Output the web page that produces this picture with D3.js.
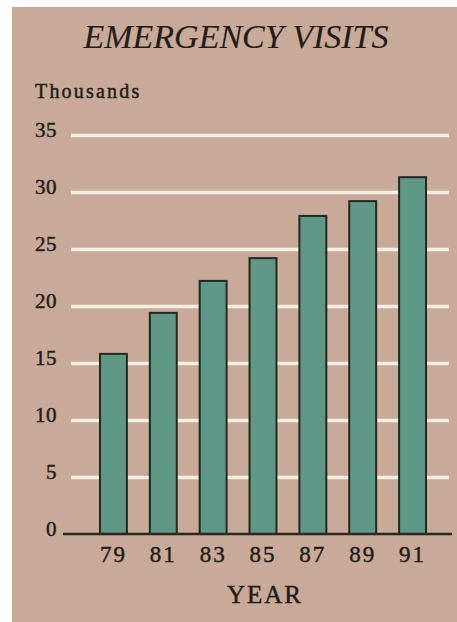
<!DOCTYPE html>
<html>
<head>
<meta charset="utf-8">
<script src="https://cdn.jsdelivr.net/npm/d3@7"></script>
<style>
  html, body { margin: 0; padding: 0; background: #ffffff; }
  svg { display: block; }
  text { font-family: "Liberation Serif", "Times New Roman", serif; fill: #221d18; stroke: #221d18; stroke-width: 0.45; }
</style>
</head>
<body>
<div id="chart"></div>
<script>
(function() {
	"use strict";

	// values (thousands of visits)
	var years = ["79", "81", "83", "85", "87", "89", "91"];
	var visits = [15.8, 19.4, 22.2, 24.2, 27.9, 29.2, 31.3];
	var yTicks = [0, 5, 10, 15, 20, 25, 30, 35];

	var w = 457;
	var h = 622;

	var svg = d3.select("#chart").append("svg")
		.attr("width", w)
		.attr("height", h);

	// tan card
	svg.append("rect")
		.attr("x", 12)
		.attr("y", 7)
		.attr("width", w - 12)
		.attr("height", h - 7)
		.attr("fill", "#c9a997");

	var x = d3.scaleBand()
		.domain(years)
		.range([88.5, 437.5])
		.paddingInner(0.46)
		.paddingOuter(0.23);

	var y = d3.scaleLinear()
		.domain([0, 35])
		.range([534, 135]);

	// white grid lines with the labels on the left
	var yAxis = d3.axisLeft(y)
		.tickValues(yTicks)
		.tickSize(378)
		.tickPadding(14);

	var gy = svg.append("g")
		.attr("transform", "translate(449,0)")
		.call(yAxis);
	gy.select(".domain").remove();
	gy.selectAll(".tick line")
		.attr("stroke", "#f6f0e4")
		.attr("stroke-width", 3.5)
		.filter(function(d) { return d === 0; })
		.remove();
	gy.selectAll(".tick text")
		.attr("dy", 0)
		.attr("y", 1)
		.attr("font-size", 21)
		.attr("letter-spacing", 0.5)
		.attr("font-family", "Liberation Serif, serif")
		.attr("fill", "#221d18");

	svg.selectAll("rect.bar")
		.data(visits)
		.enter()
		.append("rect")
			.attr("class", "bar")
			.attr("x", function(d, i) { return x(years[i]); })
			.attr("y", function(d) { return y(d); })
			.attr("width", x.bandwidth())
			.attr("height", function(d) { return y(0) - y(d); })
			.attr("fill", "#5f9887")
			.attr("stroke", "#1f2a22")
			.attr("stroke-width", 2);

	// baseline
	svg.append("line")
		.attr("x1", 63)
		.attr("x2", 452)
		.attr("y1", y(0))
		.attr("y2", y(0))
		.attr("stroke", "#2a2a22")
		.attr("stroke-width", 2.5);

	var xAxis = d3.axisBottom(x).tickSize(0);
	var gx = svg.append("g")
		.attr("transform", "translate(0," + y(0) + ")")
		.call(xAxis);
	gx.select(".domain").remove();
	gx.selectAll(".tick text")
		.attr("dy", 0)
		.attr("y", 28)
		.attr("font-size", 23)
		.attr("letter-spacing", 2)
		.attr("font-family", "Liberation Serif, serif")
		.attr("fill", "#221d18");

	svg.append("text")
		.attr("x", 236)
		.attr("y", 48)
		.attr("text-anchor", "middle")
		.attr("font-size", 34)
		.attr("font-style", "italic")
		.style("stroke-width", 0.1)
		.text("EMERGENCY VISITS");

	svg.append("text")
		.attr("x", 35)
		.attr("y", 98)
		.attr("font-size", 20)
		.attr("letter-spacing", 2.2)
		.text("Thousands");

	svg.append("text")
		.attr("x", 265)
		.attr("y", 603)
		.attr("text-anchor", "middle")
		.attr("font-size", 25)
		.attr("letter-spacing", 2)
		.text("YEAR");
}());
</script>
</body>
</html>
